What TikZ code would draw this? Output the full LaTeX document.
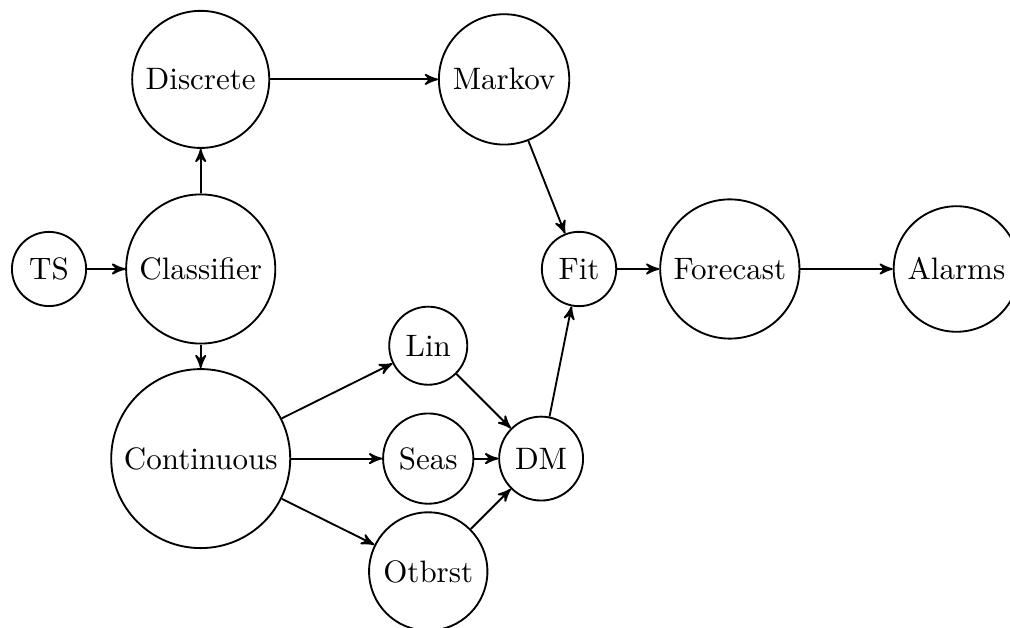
\documentclass[tikz,border=0pt]{standalone}
\usepackage{amsmath}
\usepackage{tikz}
\usetikzlibrary{arrows}
\tikzstyle{stage}=[draw, circle, semithick]

\begin{document}
\begin{tikzpicture}[semithick, >=stealth']
            \useasboundingbox (0,0) rectangle (11.453,-7.121);
            \node [stage] (TS) at (0.556,-3.05) {TS};
            \node [stage, right of=TS, node distance=1.72cm] (C) {Classifier};
            \node [stage, above of=C, node distance=2.15cm] (D) {Discrete};
            \node [stage, right of=D, node distance=3.44cm] (M) {Markov};
            \node [stage, right of=C, node distance=4.29cm] (F) {Fit};
            \node [stage, right of=F, node distance=1.71cm] (Fc) {Forecast};
            \node [stage, right of=Fc, node distance=2.57cm] (A) {Alarms};
            \node [stage, below of=C, node distance=2.15cm] (Ct) {Continuous};
            \node [stage, right of=Ct, node distance=2.58cm] (S) {Seas};
            \node [stage, above of=S, node distance=1.28cm] (L) {Lin};
            \node [stage, below of=S, node distance=1.28cm] (O) {Otbrst};
            \node [stage, right of=S, node distance=1.28cm] (DM) {DM};
            \path[->] (TS) edge (C);
            \path[->] (C) edge (D);
            \path[->] (C) edge (Ct);
            \path[->] (D) edge (M);
            \path[->] (M) edge (F);
            \path[->] (Ct) edge (L);
            \path[->] (Ct) edge (S);
            \path[->] (Ct) edge (O);
            \path[->] (L) edge (DM);
            \path[->] (S) edge (DM);
            \path[->] (O) edge (DM);
            \path[->] (DM) edge (F);
            \path[->] (F) edge (Fc);
            \path[->] (Fc) edge (A);
        \end{tikzpicture}
\end{document}
